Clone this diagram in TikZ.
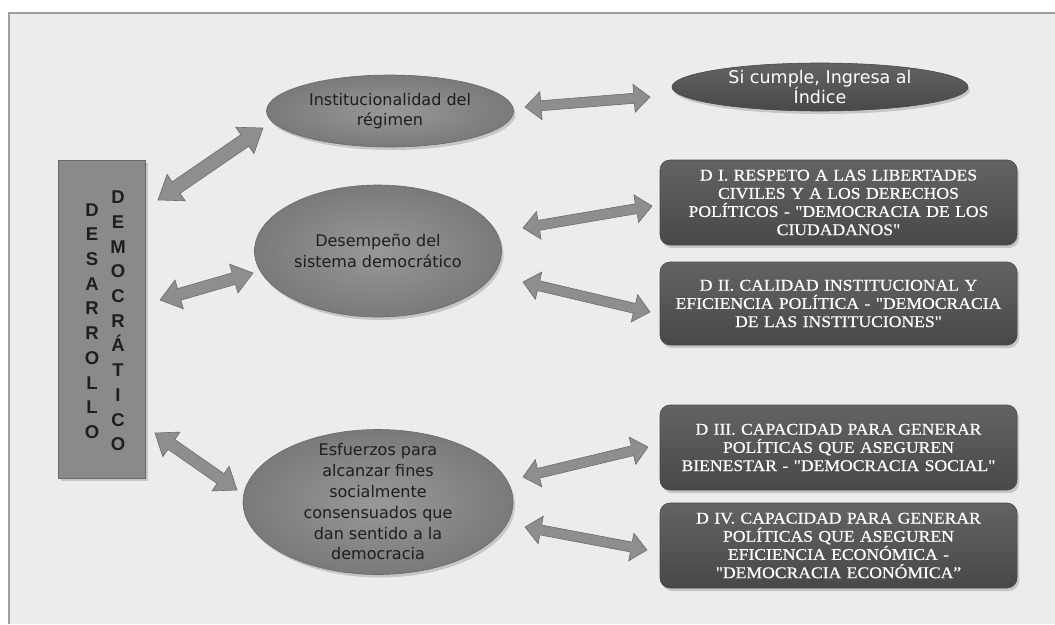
\documentclass[tikz,border=0pt]{standalone}
\usepackage{fontspec}
\usetikzlibrary{calc,shapes.geometric,shadows}
\newfontfamily\ellfont{DejaVu Sans}
\newfontfamily\boxfont[FakeStretch=1.08,FakeBold=0.6]{Liberation Serif}
\newfontfamily\letfont{Liberation Sans}
\definecolor{bgc}{HTML}{ECECEC}
\definecolor{framec}{HTML}{9E9E9E}
\definecolor{ellin}{HTML}{989898}
\definecolor{ellout}{HTML}{7A7A7A}
\definecolor{ellline}{HTML}{6A6A6A}
\definecolor{darktop}{HTML}{636363}
\definecolor{darkbot}{HTML}{484848}
\definecolor{leftc}{HTML}{8A8A8A}
\definecolor{arrfill}{HTML}{8E8E8E}
\definecolor{arrline}{HTML}{6C6C6C}
\definecolor{txtdark}{HTML}{1E1E1E}
\tikzset{
  ell/.style={ellipse, inner sep=0pt, draw=ellline, line width=0.6pt,
    inner color=ellin, outer color=ellout,
    drop shadow={shadow xshift=2pt, shadow yshift=-3pt, opacity=0.35}},
  ellt/.style={align=center, inner sep=0pt, text=txtdark,
    font=\ellfont\fontsize{16}{20.8}\selectfont},
  darkell/.style={ellipse, inner sep=0pt, draw=darkbot, line width=0.6pt,
    top color=darktop, bottom color=darkbot,
    drop shadow={shadow xshift=2pt, shadow yshift=-3pt, opacity=0.35}},
  darkt/.style={align=center, inner sep=0pt, text=white,
    font=\ellfont\fontsize{17.5}{19}\selectfont},
  dbox/.style={rectangle, rounded corners=10pt, draw=darkbot, line width=0.6pt,
    top color=darktop, bottom color=darkbot,
    minimum width=357pt, inner sep=0pt, text width=354pt, align=center,
    text=white, font=\boxfont\fontsize{16.3}{18.2}\selectfont,
    drop shadow={shadow xshift=2pt, shadow yshift=-3pt, opacity=0.35}},
  lbox/.style={rectangle, draw=ellline, line width=0.8pt, fill=leftc,
    minimum width=87pt, minimum height=318pt, inner sep=0pt,
    drop shadow={shadow xshift=2pt, shadow yshift=-3pt, opacity=0.35}},
  letcol/.style={align=center, inner sep=0pt, text=txtdark,
    font=\letfont\bfseries\fontsize{18.5}{24.7}\selectfont},
  arr/.style={fill=arrfill, draw=arrline, line width=0.6pt, line join=miter}
}
% double block arrow: #1,#2 end names, #3 shaft half width, #4 head half width, #5 head length
\newcommand\dblarrow[5]{%
  \coordinate (#1h) at ($(#1)!#5!(#2)$);
  \coordinate (#2h) at ($(#2)!#5!(#1)$);
  \filldraw[arr] (#1) -- ($(#1h)!#4!90:(#2)$) -- ($(#1h)!#3!90:(#2)$)
    -- ($(#2h)!#3!-90:(#1)$) -- ($(#2h)!#4!-90:(#1)$) -- (#2)
    -- ($(#2h)!#4!90:(#1)$) -- ($(#2h)!#3!90:(#1)$)
    -- ($(#1h)!#3!-90:(#2)$) -- ($(#1h)!#4!-90:(#2)$) -- cycle;
}
\begin{document}
\begin{tikzpicture}[x=1pt,y=-1pt]
\useasboundingbox (0,0) rectangle (1055,624);
\fill[white] (0,0) rectangle (1055,624);
\fill[bgc] (9,13) rectangle (1055,624);
\draw[framec, line width=2pt] (9,624) -- (9,13) -- (1055,13);

% left box
\node[lbox] (lb) at (102,319) {};
\node[letcol] (lc1) at (92,321) {D\\E\\S\\A\\R\\R\\O\\L\\L\\O};
\node[letcol] (lc2) at (118,321) {D\\E\\M\\O\\C\\R\\Á\\T\\I\\C\\O};

% ellipses
\node[ell, minimum width=247pt, minimum height=72pt] (e1) at (390,111) {};
\node[ellt] (e1t) at (e1.center) {Institucionalidad del\\régimen};
\node[ell, minimum width=247pt, minimum height=132pt] (e2) at (378,251) {};
\node[ellt] (e2t) at (e2.center) {Desempeño del\\sistema democrático};
\node[ell, minimum width=270pt, minimum height=145pt] (e3) at (378,502) {};
\node[ellt] (e3t) at (e3.center) {Esfuerzos para\\alcanzar fines\\socialmente\\consensuados que\\dan sentido a la\\democracia};
\node[darkell, minimum width=296pt, minimum height=48pt] (e4) at (820,87) {};
\node[darkt] (e4t) at (e4.center) {Si cumple, Ingresa al\\Índice};

% dark boxes
\node[dbox, minimum height=85pt] (r1) at (838.5,202.5) {D I. RESPETO A LAS LIBERTADES\\CIVILES Y A LOS DERECHOS\\POLÍTICOS - "DEMOCRACIA DE LOS\\CIUDADANOS"};
\node[dbox, minimum height=83pt] (r2) at (838.5,303.5) {D II. CALIDAD INSTITUCIONAL Y\\EFICIENCIA POLÍTICA - "DEMOCRACIA\\DE LAS INSTITUCIONES"};
\node[dbox, minimum height=85pt] (r3) at (838.5,447.5) {D III. CAPACIDAD PARA GENERAR\\POLÍTICAS QUE ASEGUREN\\BIENESTAR - "DEMOCRACIA SOCIAL"};
\node[dbox, minimum height=85pt] (r4) at (838.5,545.5) {D IV. CAPACIDAD PARA GENERAR\\POLÍTICAS QUE ASEGUREN\\EFICIENCIA ECONÓMICA -\\"DEMOCRACIA ECONÓMICA”};

% arrow end points
\coordinate (a1s) at (158,200); \coordinate (a1e) at (263,128);
\coordinate (a2s) at (160,300); \coordinate (a2e) at (253,273);
\coordinate (a3s) at (155,433); \coordinate (a3e) at (237,490);
\coordinate (a4s) at (525,107); \coordinate (a4e) at (650,97);
\coordinate (a5s) at (523,228); \coordinate (a5e) at (652,206);
\coordinate (a6s) at (523,282); \coordinate (a6e) at (650,312);
\coordinate (a7s) at (523,477); \coordinate (a7e) at (648,447);
\coordinate (a8s) at (525,527); \coordinate (a8e) at (647,550);

\dblarrow{a1s}{a1e}{7pt}{16pt}{22pt}
\dblarrow{a2s}{a2e}{6pt}{15pt}{20pt}
\dblarrow{a3s}{a3e}{6pt}{15pt}{20pt}
\dblarrow{a4s}{a4e}{5pt}{14pt}{16pt}
\dblarrow{a5s}{a5e}{5pt}{14pt}{16pt}
\dblarrow{a6s}{a6e}{5pt}{14pt}{16pt}
\dblarrow{a7s}{a7e}{5pt}{14pt}{16pt}
\dblarrow{a8s}{a8e}{5pt}{14pt}{16pt}
\end{tikzpicture}
\end{document}
